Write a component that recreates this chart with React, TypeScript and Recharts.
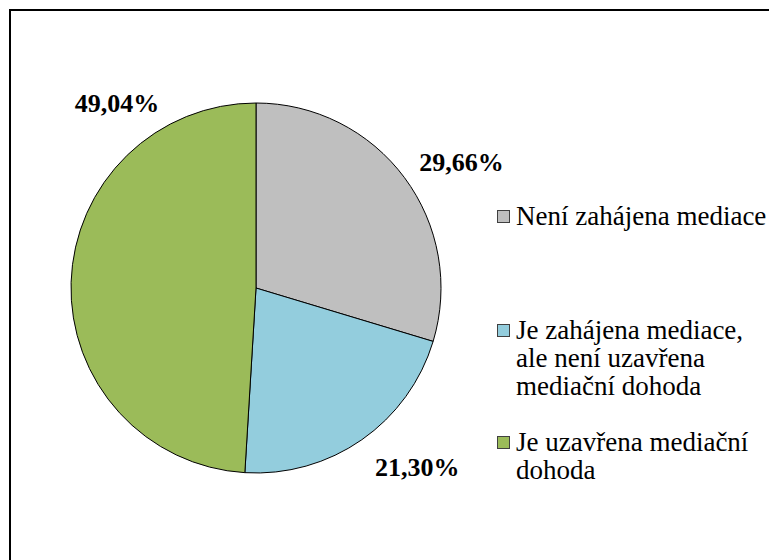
import React from "react";
import { Cell, Legend, Pie, PieChart } from "recharts";

// data
const names = [
    "Není zahájena mediace",
    "Je zahájena mediace, ale není uzavřena mediační dohoda",
    "Je uzavřena mediační dohoda",
];
const shares = [29.66, 21.3, 49.04];
const COLORS = ["#BFBFBF", "#93CDDD", "#9BBB59"];

const data = names.map((name, i) => ({ name, value: shares[i] }));

const FONT = `"Liberation Serif", "Times New Roman", serif`;

// Excel "best fit" label placement: [angle clockwise from top, distance from center]
const LABEL_POS: [number, number][] = [
    [58.5, 241],
    [138, 241],
    [323, 231],
];

const renderLabel = (props: any) => {
    const { cx, cy, index, value } = props;
    const [deg, r] = LABEL_POS[index];
    const rad = (deg * Math.PI) / 180;
    const x = cx + r * Math.sin(rad);
    const y = cy - r * Math.cos(rad);
    return (
        <text
            x={x}
            y={y}
            textAnchor="middle"
            dominantBaseline="central"
            fontFamily={FONT}
            fontWeight="bold"
            fontSize={26}
            fill="#000"
        >
            {value.toFixed(2).replace(".", ",") + "%"}
        </text>
    );
};

const ITEM_GAP = [0, 86, 28];

const renderLegend = (props: any) => {
    // keep the data order (recharts sorts legend items by default)
    const items = names.map((n) => (props.payload || []).find((p: any) => p.value === n)).filter(Boolean);
    return (
        <div style={{ fontFamily: FONT, fontSize: 27, lineHeight: "28px", color: "#000" }}>
            {items.map((entry: any, i: number) => (
                <div key={`leg-${i}`} style={{ display: "flex", alignItems: "flex-start", marginTop: ITEM_GAP[i] }}>
                    <span
                        style={{
                            width: 11,
                            height: 11,
                            marginTop: 8,
                            marginRight: 6,
                            flex: "0 0 auto",
                            background: entry.color,
                            border: "1px solid #404040",
                        }}
                    />
                    <span style={{ width: 258 }}>{entry.value}</span>
                </div>
            ))}
        </div>
    );
};

export default function App() {
    return (
        <div style={{ position: "relative", width: 769, height: 560, overflow: "hidden", background: "#fff" }}>
            <style>{`body{margin:0}`}</style>
            <div
                style={{
                    position: "absolute",
                    left: 9,
                    top: 9,
                    width: 800,
                    height: 600,
                    borderTop: "2px solid #000",
                    borderLeft: "2px solid #000",
                }}
            />
            <PieChart
                width={769}
                height={560}
                margin={{ top: 0, right: 0, bottom: 0, left: 0 }}
                style={{ position: "absolute", left: 0, top: 0 }}
            >
                <Pie
                    data={data}
                    dataKey="value"
                    nameKey="name"
                    cx={256}
                    cy={288}
                    outerRadius={185}
                    startAngle={90}
                    endAngle={-270}
                    stroke="#000"
                    strokeWidth={1}
                    label={renderLabel}
                    labelLine={false}
                    isAnimationActive={false}
                >
                    {data.map((entry, index) => (
                        <Cell key={`cell-${index}`} fill={COLORS[index]} />
                    ))}
                </Pie>
                <Legend
                    layout="vertical"
                    content={renderLegend}
                    wrapperStyle={{ position: "absolute", left: 497, top: 202, width: 272 }}
                />
            </PieChart>
        </div>
    );
}
